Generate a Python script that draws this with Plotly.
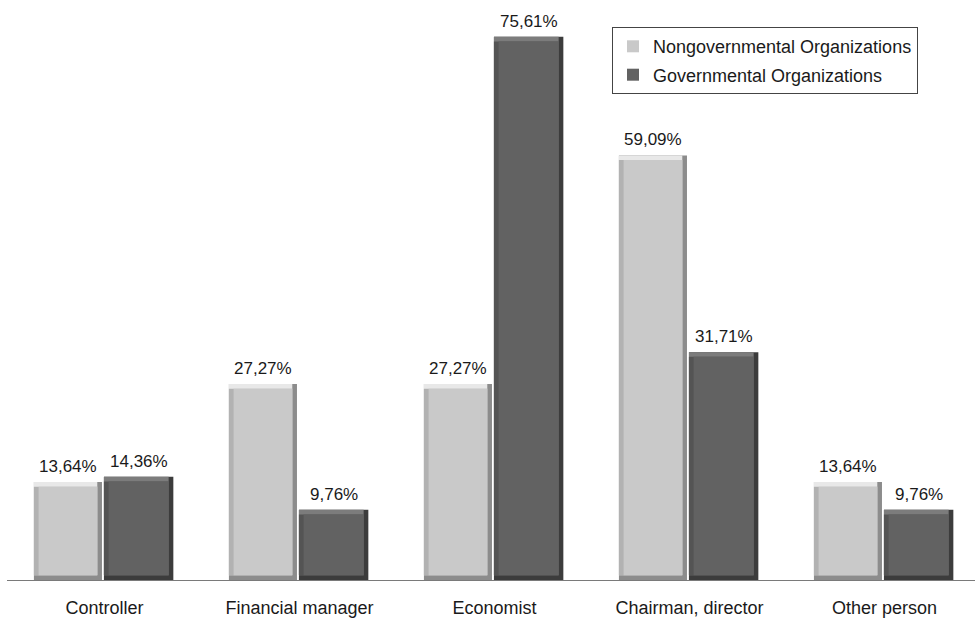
import plotly.graph_objects as go

# Data
categories = ["Controller", "Financial manager", "Economist", "Chairman, director", "Other person"]
ngo_values = [13.64, 27.27, 27.27, 59.09, 13.64]
gov_values = [14.36, 9.76, 75.61, 31.71, 9.76]
series_names = ["Nongovernmental Organizations", "Governmental Organizations"]

FONT = "Liberation Sans, Arial, sans-serif"

# Bar styling: offset, width and bevel colours (face, top, left, shadow)
styles = [
    dict(off=-0.362, w=0.349, face="#c9c9c9", top="#e8e8e8", left="#b2b2b2", shadow="#8c8c8c"),
    dict(off=-0.003, w=0.356, face="#626262", top="#7c7c7c", left="#545454", shadow="#3c3c3c"),
]
IX = 0.024  # horizontal bevel thickness (x units)
IY = 0.65   # vertical bevel thickness (y units)

x_idx = list(range(len(categories)))
fig = go.Figure()


def fmt(v):
    return f"{v:.2f}%".replace(".", ",")


for name, vals, s in zip(series_names, [ngo_values, gov_values], styles):
    off, w = s["off"], s["w"]
    common = dict(x=x_idx, showlegend=False, hoverinfo="skip")
    # full bar in shadow colour (right and bottom edges)
    fig.add_trace(go.Bar(y=vals, base=0, offset=off, width=w,
                         marker=dict(color=s["shadow"], line=dict(width=0)), **common))
    # top highlight band
    fig.add_trace(go.Bar(y=[v - IY for v in vals], base=IY, offset=off, width=w - IX,
                         marker=dict(color=s["top"], line=dict(width=0)), **common))
    # left band
    fig.add_trace(go.Bar(y=[v - 2 * IY for v in vals], base=IY, offset=off, width=w - IX,
                         marker=dict(color=s["left"], line=dict(width=0)), **common))
    # face
    fig.add_trace(go.Bar(
        x=x_idx, y=[v - 2 * IY for v in vals], base=IY, offset=off + IX, width=w - 2 * IX,
        marker=dict(color=s["face"], line=dict(width=0)),
        name=name, legendgroup=name, showlegend=True,
        customdata=[fmt(v) for v in vals],
        hovertemplate="%{customdata}<extra></extra>"))
    # value labels above each bar
    for i, v in zip(x_idx, vals):
        fig.add_annotation(
            x=i + off + w / 2, y=v, xref="x", yref="y",
            text=fmt(v), showarrow=False, yanchor="bottom", yshift=4,
            font=dict(family=FONT, size=17, color="#1a1a1a"))

fig.update_layout(
    width=975, height=618,
    barmode="overlay",
    paper_bgcolor="white", plot_bgcolor="white",
    margin=dict(l=7, r=0, t=10, b=38),
    font=dict(family=FONT, size=18, color="#1a1a1a"),
    legend=dict(
        x=0.625, y=0.97, xanchor="left", yanchor="top",
        bgcolor="white", bordercolor="#444444", borderwidth=1,
        font=dict(family=FONT, size=18, color="#1a1a1a"),
        tracegroupgap=2, traceorder="grouped"),
    xaxis=dict(
        range=[-0.5, 4.464], tickmode="array", tickvals=x_idx, ticktext=categories,
        showgrid=False, zeroline=False, showline=True, linecolor="#7a7a7a", linewidth=1,
        ticks="", ticklabelstandoff=11, automargin=False,
        tickfont=dict(family=FONT, size=18, color="#1a1a1a")),
    yaxis=dict(range=[0, 79.33], visible=False, showgrid=False, zeroline=False),
)

fig.write_html("out.html")
